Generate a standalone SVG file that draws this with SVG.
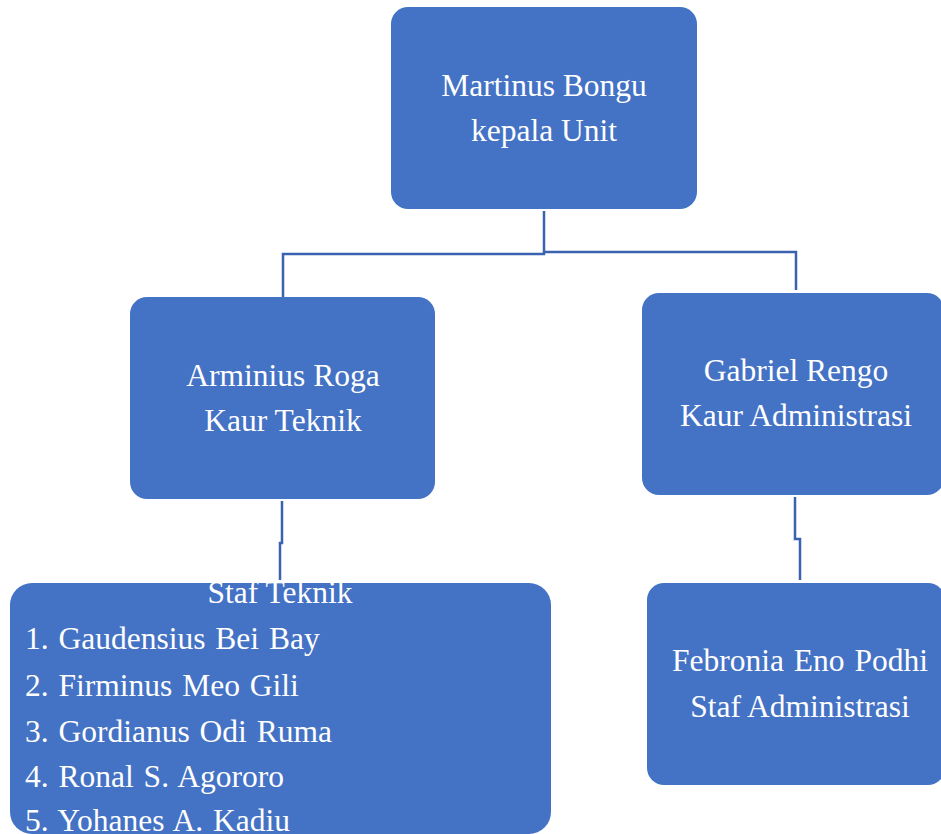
<svg xmlns="http://www.w3.org/2000/svg" width="941" height="834" viewBox="0 0 941 834">
<style>
.box{fill:#4472C4;}
.t{font-family:"Liberation Serif","Times New Roman",serif;font-size:31.5px;fill:#FFFFFF;}
.c{text-anchor:middle;}
.l{word-spacing:2px;}
.ln{fill:none;stroke:#3A62AE;stroke-width:2.5;}
</style>
<rect width="941" height="834" fill="#FFFFFF"/>
<g id="connectors">
<path class="ln" d="M544,211 V254 H283 V297"/>
<path class="ln" d="M544,252 H796 V290"/>
<path class="ln" d="M282,501 V543 H280 V580"/>
<path class="ln" d="M795,497 V539 H800 V580"/>
</g>
<g id="kepala">
<rect class="box" x="391" y="7" width="306" height="202" rx="17"/>
<text class="t c" x="544" y="96">Martinus Bongu</text>
<text class="t c" x="544" y="141">kepala Unit</text>
</g>
<g id="kaur-teknik">
<rect class="box" x="130" y="297" width="305" height="202" rx="17"/>
<text class="t c" x="283" y="386">Arminius Roga</text>
<text class="t c" x="283" y="431">Kaur Teknik</text>
</g>
<g id="kaur-admin">
<rect class="box" x="642" y="293" width="302" height="202" rx="17"/>
<text class="t c" x="796" y="381">Gabriel Rengo</text>
<text class="t c" x="796" y="426">Kaur Administrasi</text>
</g>
<g id="staf-teknik">
<rect class="box" x="10" y="583" width="541" height="251" rx="22"/>
<text class="t c" x="280" y="603">Staf Teknik</text>
<text class="t l" x="25" y="649">1. Gaudensius Bei Bay</text>
<text class="t l" x="25" y="696">2. Firminus Meo Gili</text>
<text class="t l" x="25" y="742">3. Gordianus Odi Ruma</text>
<text class="t l" x="25" y="787">4. Ronal S. Agororo</text>
<text class="t l" x="25" y="831">5. Yohanes A. Kadiu</text>
</g>
<g id="staf-admin">
<rect class="box" x="647" y="583" width="298" height="202" rx="17"/>
<text class="t c l" x="800" y="671">Febronia Eno Podhi</text>
<text class="t c" x="800" y="717">Staf Administrasi</text>
</g>
</svg>
